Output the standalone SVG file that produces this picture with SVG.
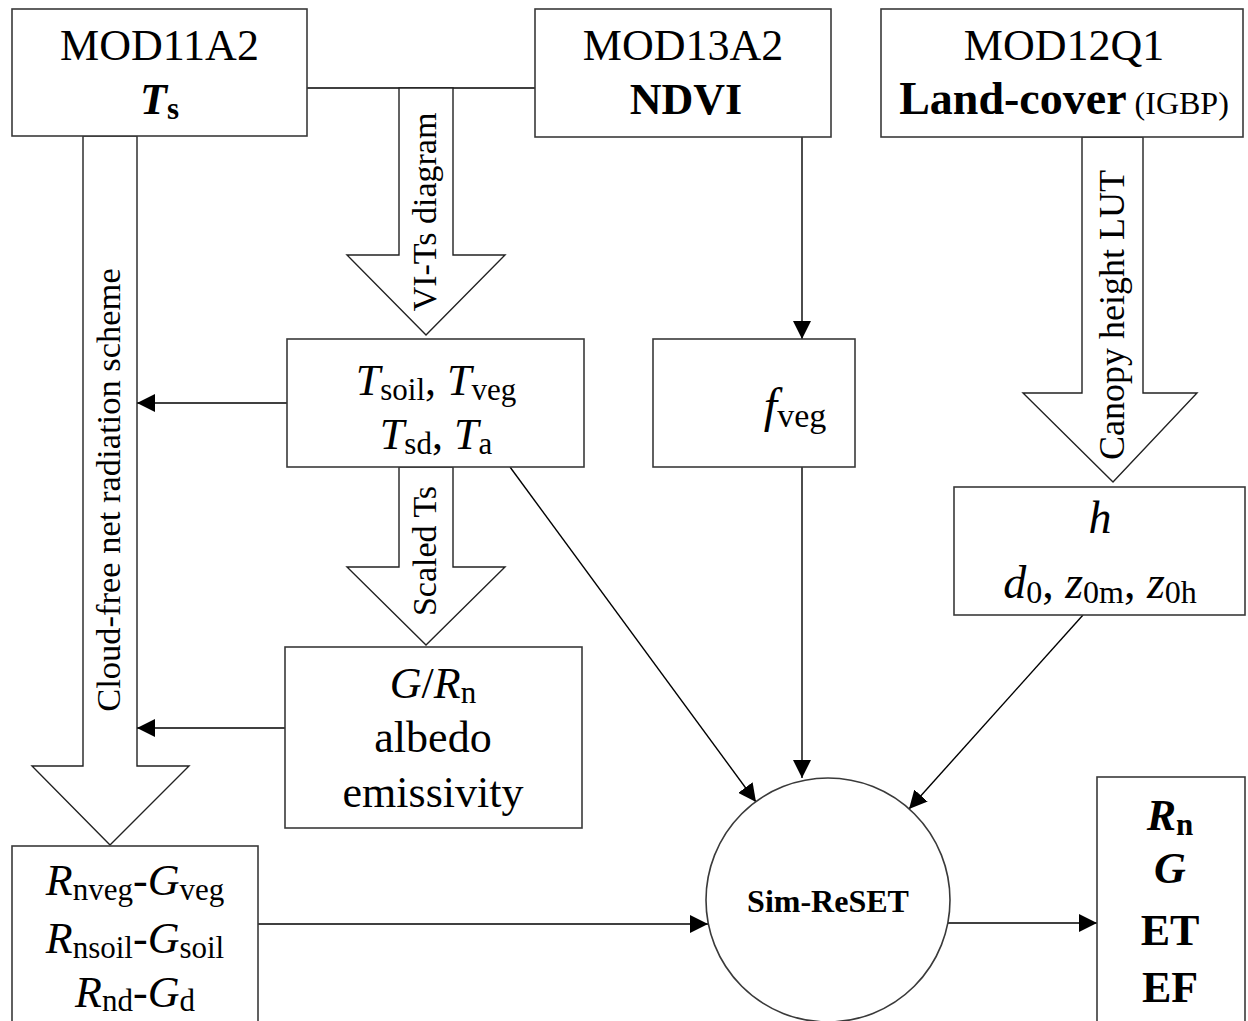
<svg xmlns="http://www.w3.org/2000/svg" width="1248" height="1021" viewBox="0 0 1248 1021">
<style>
.box{fill:#fff;stroke:#3a3a3a;stroke-width:1.6}
.blk{fill:#fff;stroke:#222;stroke-width:1.4}
.ln{fill:none;stroke:#000;stroke-width:1.4}
text{font-family:"Liberation Serif","Times New Roman",serif;fill:#000}
.m{font-size:44px;text-anchor:middle}
.i{font-style:italic}
.b{font-weight:bold}
.s{font-size:31px}
.lab{font-size:34px;text-anchor:middle}
</style>
<defs>
<marker id="ah" markerWidth="18" markerHeight="18" refX="18" refY="9" orient="auto" markerUnits="userSpaceOnUse"><path d="M0,0 L18,9 L0,18 Z" fill="#000"/></marker>
</defs>
<rect width="1248" height="1021" fill="#fff"/>

<g id="connectors">
<line class="ln" x1="307" y1="88" x2="535" y2="88"/>
<line class="ln" x1="802" y1="137" x2="802" y2="339" marker-end="url(#ah)"/>
<line class="ln" x1="287" y1="403" x2="137" y2="403" marker-end="url(#ah)"/>
<line class="ln" x1="285" y1="728" x2="137" y2="728" marker-end="url(#ah)"/>
<line class="ln" x1="510" y1="467" x2="756" y2="802" marker-end="url(#ah)"/>
<line class="ln" x1="802" y1="467" x2="802" y2="778" marker-end="url(#ah)"/>
<line class="ln" x1="1083" y1="615" x2="909" y2="809" marker-end="url(#ah)"/>
<line class="ln" x1="258" y1="924" x2="708" y2="924" marker-end="url(#ah)"/>
<line class="ln" x1="948" y1="923" x2="1097" y2="923" marker-end="url(#ah)"/>
</g>

<g id="arrow-vits">
<polygon class="blk" points="399,88 453,88 453,255 505,255 426,335 347,255 399,255"/>
<text class="lab" transform="translate(436,212) rotate(-90)">VI-Ts diagram</text>
</g>
<g id="arrow-canopy">
<polygon class="blk" points="1082,137 1143,137 1143,393 1197,393 1113,482 1023,393 1082,393"/>
<text class="lab" style="font-size:36px" transform="translate(1124,315) rotate(-90)">Canopy height LUT</text>
</g>
<g id="arrow-cloud">
<polygon class="blk" points="83,136 137,136 137,766 189,766 110,845 32,766 83,766"/>
<text class="lab" style="font-size:34.5px" transform="translate(120,490) rotate(-90)">Cloud-free net radiation scheme</text>
</g>
<g id="arrow-scaled">
<polygon class="blk" points="399,467 453,467 453,567 505,567 426,645 347,567 399,567"/>
<text class="lab" transform="translate(436,551) rotate(-90)">Scaled Ts</text>
</g>

<g id="mod11a2">
<rect class="box" x="12" y="9" width="295" height="127"/>
<text class="m" x="159.5" y="60">MOD11A2</text>
<text class="m b" x="159.5" y="114"><tspan class="i">T</tspan><tspan class="s" dy="5">s</tspan></text>
</g>
<g id="mod13a2">
<rect class="box" x="535" y="9" width="296" height="128"/>
<text class="m" x="683" y="60">MOD13A2</text>
<text class="m b" x="686" y="114">NDVI</text>
</g>
<g id="mod12q1">
<rect class="box" x="881" y="9" width="362" height="128"/>
<text class="m" x="1064" y="60">MOD12Q1</text>
<text class="m" x="1064" y="114"><tspan class="b" style="font-size:46px">Land-cover</tspan><tspan style="font-size:32px"> (IGBP)</tspan></text>
</g>
<g id="temps">
<rect class="box" x="287" y="339" width="297" height="128"/>
<text class="m" x="436" y="395"><tspan class="i">T</tspan><tspan class="s" dy="5">soil</tspan><tspan dy="-5">, </tspan><tspan class="i">T</tspan><tspan class="s" dy="5">veg</tspan></text>
<text class="m" x="436" y="449"><tspan class="i">T</tspan><tspan class="s" dy="5">sd</tspan><tspan dy="-5">, </tspan><tspan class="i">T</tspan><tspan class="s" dy="5">a</tspan></text>
</g>
<g id="fveg">
<rect class="box" x="653" y="339" width="202" height="128"/>
<text class="m" style="font-size:48px" x="795" y="422"><tspan class="i">f</tspan><tspan style="font-size:34px" dy="5">veg</tspan></text>
</g>
<g id="canopy">
<rect class="box" x="954" y="487" width="291" height="128"/>
<text class="m i" style="font-size:46px" x="1100" y="533">h</text>
<text class="m" style="font-size:46px" x="1100" y="598"><tspan class="i">d</tspan><tspan style="font-size:32px" dy="5">0</tspan><tspan dy="-5">, </tspan><tspan class="i">z</tspan><tspan style="font-size:32px" dy="5">0m</tspan><tspan dy="-5">, </tspan><tspan class="i">z</tspan><tspan style="font-size:32px" dy="5">0h</tspan></text>
</g>
<g id="grn">
<rect class="box" x="285" y="647" width="297" height="181"/>
<text class="m" x="433" y="698"><tspan class="i">G</tspan>/<tspan class="i">R</tspan><tspan class="s" dy="5">n</tspan></text>
<text class="m" x="433" y="752">albedo</text>
<text class="m" x="433" y="807">emissivity</text>
</g>
<g id="rnet">
<rect class="box" x="12" y="846" width="246" height="190"/>
<text class="m" x="135" y="895"><tspan class="i">R</tspan><tspan class="s" dy="5">nveg</tspan><tspan dy="-5">-</tspan><tspan class="i">G</tspan><tspan class="s" dy="5">veg</tspan></text>
<text class="m" x="135" y="953"><tspan class="i">R</tspan><tspan class="s" dy="5">nsoil</tspan><tspan dy="-5">-</tspan><tspan class="i">G</tspan><tspan class="s" dy="5">soil</tspan></text>
<text class="m" x="135" y="1007"><tspan class="i">R</tspan><tspan class="s" dy="4">nd</tspan><tspan dy="-4">-</tspan><tspan class="i">G</tspan><tspan class="s" dy="4">d</tspan></text>
</g>
<g id="simreset">
<circle class="box" cx="828" cy="900" r="122"/>
<text class="b" x="828" y="912" style="font-size:32px;text-anchor:middle">Sim-ReSET</text>
</g>
<g id="outputs">
<rect class="box" x="1097" y="777" width="148" height="260"/>
<text class="m b" x="1170" y="830"><tspan class="i">R</tspan><tspan class="s" dy="5">n</tspan></text>
<text class="m b i" x="1170" y="883">G</text>
<text class="m b" x="1170" y="945">ET</text>
<text class="m b" x="1170" y="1002">EF</text>
</g>
</svg>
